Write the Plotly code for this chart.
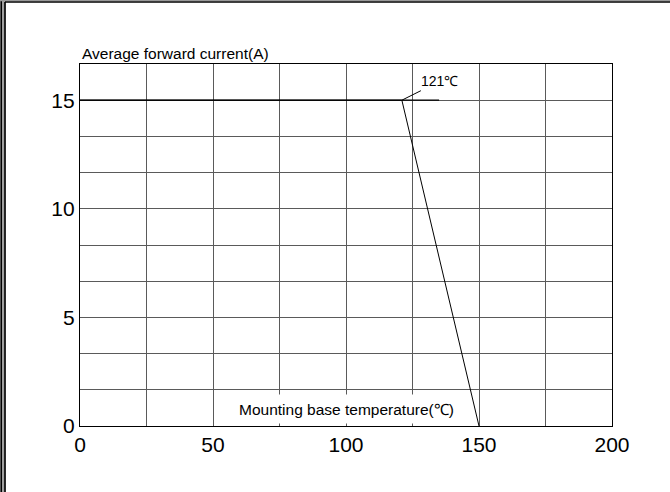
import plotly.graph_objects as go

# Data
curve_temp = [0, 121, 150]
curve_current = [15, 15, 0]
ref_line_temp = [0, 135]
ref_line_current = [15, 15]
x_ticks = [0, 50, 100, 150, 200]
y_ticks = [0, 5, 10, 15]
knee_label = "121℃"
knee_temp = 121
knee_current = 15

W, H = 670, 492
L, R, T, B = 80, 58, 64, 66
PW, PH = W - L - R, H - T - B
FONT = "Liberation Sans, Arial, sans-serif"

def px(xp):
    return (xp - L) / PW

def py(yp):
    return (H - B - yp) / PH

fig = go.Figure()
fig.add_trace(go.Scatter(x=ref_line_temp, y=ref_line_current, mode="lines",
                         line=dict(color="#000", width=1.2), showlegend=False, hoverinfo="skip"))
fig.add_trace(go.Scatter(x=curve_temp, y=curve_current, mode="lines",
                         line=dict(color="#000", width=1), showlegend=False))

grid = "#5a5a5a"
fig.update_xaxes(range=[0, 200], tickvals=x_ticks, ticktext=[str(v) for v in x_ticks],
                 showgrid=True, gridcolor=grid, gridwidth=1,
                 minor=dict(dtick=25, tick0=0, showgrid=True, gridcolor=grid, gridwidth=1),
                 showline=True, linecolor="#000", linewidth=1.3, mirror=True,
                 ticks="", zeroline=False, tickfont=dict(size=21, color="#000", family=FONT))
fig.update_yaxes(range=[0, 50 / 3], tickvals=y_ticks, ticktext=[str(v) for v in y_ticks],
                 showgrid=True, gridcolor=grid, gridwidth=1,
                 minor=dict(dtick=5 / 3, tick0=0, showgrid=True, gridcolor=grid, gridwidth=1),
                 showline=True, linecolor="#000", linewidth=1.3, mirror=True,
                 ticks="", zeroline=False, ticklabelstandoff=0,
                 tickfont=dict(size=21, color="#000", family=FONT))

fig.add_annotation(xref="paper", yref="paper", x=0, y=1, xanchor="left", yanchor="bottom",
                   yshift=0, text="Average forward current(A)", showarrow=False,
                   font=dict(size=15.5, color="#000", family=FONT))
fig.add_annotation(x=100, y=0.76, text="Mounting base temperature(℃)", showarrow=False,
                   bgcolor="white", height=28, borderpad=0,
                   font=dict(size=15.5, color="#000", family=FONT))
fig.add_annotation(x=knee_temp, y=knee_current, text=knee_label, showarrow=True,
                   arrowhead=0, arrowwidth=1, arrowcolor="#000", ax=38, ay=-19, standoff=0,
                   font=dict(size=14, color="#000", family=FONT))

shapes = [
    dict(type="rect", xref="paper", yref="paper", x0=px(0.5), x1=px(5.5), y0=py(H), y1=py(0),
         fillcolor="#a0a0a0", line=dict(width=0), layer="above"),
    dict(type="line", xref="paper", yref="paper", x0=px(1.2), x1=px(1.2), y0=py(H), y1=py(0),
         line=dict(color="#000", width=1.6), layer="above"),
    dict(type="line", xref="paper", yref="paper", x0=px(5), x1=px(5), y0=py(H), y1=py(2),
         line=dict(color="#000", width=1.6), layer="above"),
    dict(type="line", xref="paper", yref="paper", x0=px(0), x1=px(W), y0=py(0.7), y1=py(0.7),
         line=dict(color="#999", width=1.2), layer="above"),
    dict(type="line", xref="paper", yref="paper", x0=px(5), x1=px(W), y0=py(2), y1=py(2),
         line=dict(color="#000", width=1.4), layer="above"),
]

fig.update_layout(width=W, height=H, margin=dict(l=L, r=R, t=T, b=B),
                  paper_bgcolor="white", plot_bgcolor="white", shapes=shapes,
                  font=dict(family=FONT, color="#000"))
fig.write_html("out.html", config={"displayModeBar": False},
               post_script="document.body.style.margin='0';document.body.style.overflow='hidden';")
